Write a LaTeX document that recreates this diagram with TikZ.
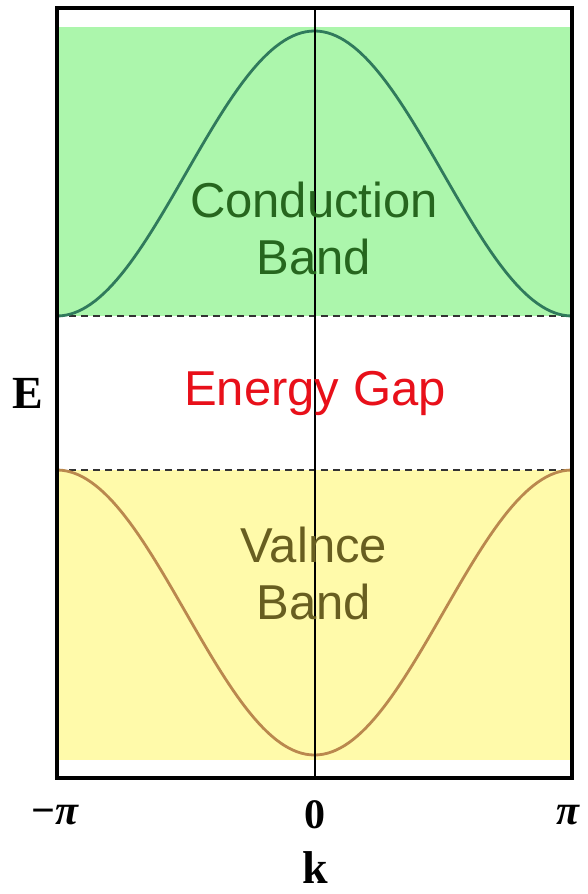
\documentclass[tikz,border=0pt]{standalone}
\usepackage{fontspec}
\setmainfont{Liberation Serif}
\newfontfamily\sansf{Liberation Sans}
\definecolor{cbfill}{RGB}{172,246,172}
\definecolor{vbfill}{RGB}{255,250,170}
\definecolor{cbline}{RGB}{48,122,92}
\definecolor{vbline}{RGB}{186,136,78}
\definecolor{cbtext}{RGB}{38,102,30}
\definecolor{vbtext}{RGB}{104,94,32}
\definecolor{gaptext}{RGB}{232,16,26}
\tikzset{
  bandlabel/.style={font=\sansf\fontsize{49}{57}\selectfont, align=center, inner sep=0pt},
  axislabel/.style={font=\bfseries\fontsize{46}{50}\selectfont, inner sep=0pt},
  ticklabel/.style={font=\bfseries\fontsize{42}{46}\selectfont, inner sep=0pt},
  edgeline/.style={line width=1.1pt, black!80, dash pattern=on 7pt off 5pt},
  bandcurve/.style={line width=2.8pt},
}
\begin{document}
\begin{tikzpicture}[x=1pt,y=-1pt]
\useasboundingbox (0,0) rectangle (587,894);
% band fills
\fill[cbfill] (57,27) rectangle (572,316);
\fill[vbfill] (57,470) rectangle (572,760);
% band edges
\draw[edgeline] (57,316) -- (572,316);
\draw[edgeline] (57,470) -- (572,470);
% dispersion curves
\draw[cbline, bandcurve] plot[domain=-1:1, samples=121] ({314.5+257.5*\x},{316-142.5*(1+cos(180*\x))});
\draw[vbline, bandcurve] plot[domain=-1:1, samples=121] ({314.5+257.5*\x},{470+142.5*(1+cos(180*\x))});
% k = 0 line
\coordinate (ktop) at (315,8);
\coordinate (kbot) at (315,778);
\draw[black, line width=1.3pt] (ktop) -- (kbot);
% frame
\draw[black, line width=3.5pt] (57,8) rectangle (572,778);
% labels
\node[bandlabel, text=cbtext] (cb) at (314,228) {Conduction\\Band};
\node[bandlabel, text=gaptext] (gap) at (315,393) {Energy Gap};
\node[bandlabel, text=vbtext] (vb) at (314,573) {Valnce\\Band};
\node[axislabel] (E) at (28,393) {E};
\node[axislabel] (k) at (315,868) {k};
\node[ticklabel] (mpi) at (55,815) {−\textit{π}};
\node[ticklabel] (zero) at (315,815) {0};
\node[ticklabel] (ppi) at (568,815) {\textit{π}};
\end{tikzpicture}
\end{document}
